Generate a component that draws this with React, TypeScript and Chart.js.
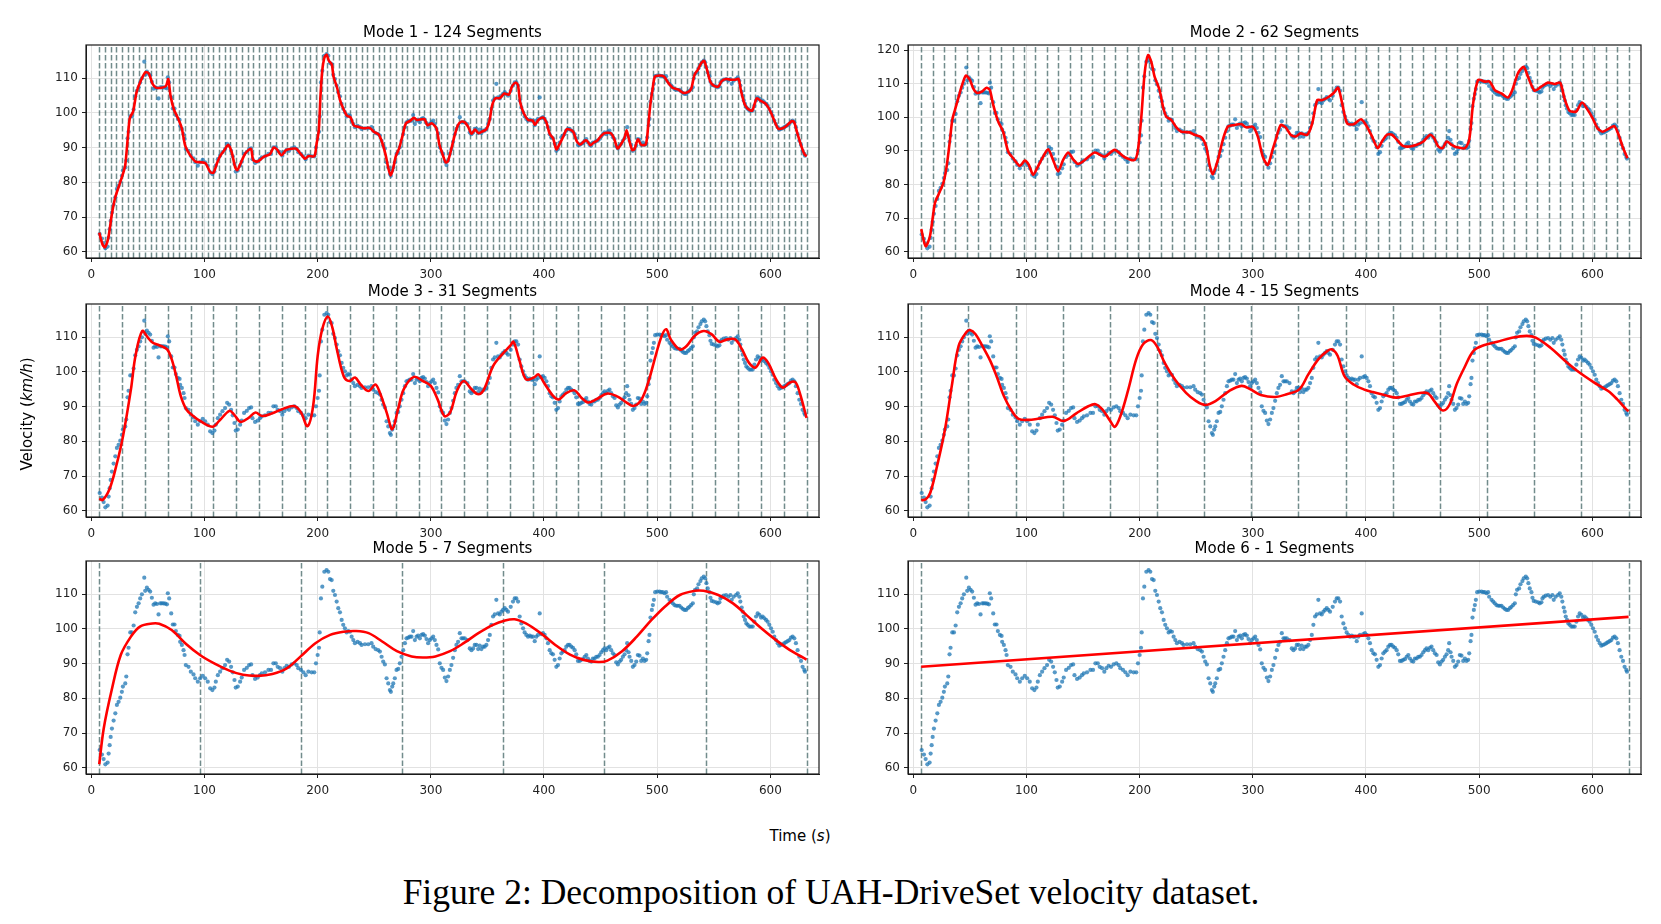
import React, { useEffect, useRef } from "react";
import { Chart, registerables } from "chart.js";

Chart.register(...registerables);

// ---------- data ----------
// velocity samples: [time (s), velocity (km/h)]
const VELOCITY_POINTS: [number, number][] = [
  [7.4,65.1],[9.4,63.8],[10.9,62.5],[12.4,61],[14.4,61.5],[15.3,64.1],[16.2,66.5],[17.1,68.9],[18.2,71.3],[19.7,73.6],[21.2,75.7],[22.6,78.1],[24.1,79],[25.6,80.2],[27,81.9],[27.9,83.4],[30,84.3],[30.9,86.3],[32,92.7],[32.9,94.6],[34.4,99],[35.9,99],[37.4,101],[38.8,104.8],[40.3,106.4],[41.8,107.4],[43.2,108.8],[44.7,110],[46.8,114.8],[47.6,111],[49.1,111.9],[50.6,111.3],[52,110.8],[53.5,109],[55,107],[56.5,107.4],[58,107.2],[59.4,104.2],[60.9,107.4],[62.3,107.4],[63.8,107.4],[65.3,107.3],[66.8,107.1],[67.6,110.3],[68.8,108.8],[70.6,104.5],[72,101.3],[73.5,101.3],[74.7,99.4],[76.5,98.3],[78,98],[78.5,96.3],[80,95.4],[81.5,93.9],[82.4,92.5],[83.5,89.6],[85.9,89.1],[87.9,87.7],[90.3,86.9],[91.8,85.8],[94.1,84.8],[96.2,85.8],[98.5,86.5],[100.6,85.8],[102.9,84.8],[105,82.9],[107,82.4],[108.8,83.1],[110,84.8],[111.8,86.7],[113.8,87.7],[115.9,88.7],[118.2,89.6],[120,91.1],[121.8,90.6],[123.5,89.1],[125,87.5],[126.5,85.3],[127.6,83.1],[129.4,83.4],[131.5,84.8],[132.9,86],[135,88.2],[137.4,88.8],[139.4,89.6],[141.2,89.8],[142.4,86.7],[144.7,85.6],[147,86],[149,86.7],[150.6,87.2],[153.5,87.5],[156.5,88.2],[158.8,88.2],[160.9,90.1],[163,90.1],[164.7,89.1],[166.8,88.7],[168.8,87.7],[170.6,88.7],[172.6,89.4],[174.7,89.1],[177,89.8],[179.4,90.1],[181.5,89.6],[182.9,88.7],[185.3,88.2],[187.4,87.5],[189.4,86.7],[191.8,87.7],[194.7,87.5],[197,87.5],[198.5,90.1],[200,92.5],[201.2,94.6],
  [201.8,99],[202.9,108.8],[204.1,112.2],[205.9,116.5],[207.9,117],[209.4,116.5],[210.9,114.4],[212.4,114.1],[213.8,111],[215.3,109.8],[216.8,107.9],[218.2,106],[219.7,104.8],[221.2,102.6],[222.6,101.2],[224.1,100.2],[225.6,99],[227,99.4],[228.5,99.2],[230,97.8],[231.5,96.8],[232.9,95.9],[235.3,96.3],[237.4,95.9],[238.8,95.4],[241.8,95.6],[244.7,95.6],[247.6,95.9],[249.1,94.9],[251.2,94.2],[253.5,93.9],[255,93.5],[256.5,92],[257.9,90.6],[259.4,89.8],[260.9,85.8],[262.4,84.3],[263.8,82.4],[264.7,81.9],[265.9,83.4],[266.8,84.3],[268.2,85.8],[269.7,88.2],[271.2,88.5],[272.6,90.1],[274.1,92],[275.6,93.9],[277.1,95.9],[278.5,97.3],[280,97.5],[281.5,97.8],[282.9,97.8],[284.4,99.4],[285.9,96.8],[287.4,97.8],[288.8,98.1],[290.3,97.3],[291.8,98.3],[293.2,98.5],[294.7,98.1],[296.2,97.1],[297.6,95.9],[299.1,96.8],[300.6,97.3],[302.1,97.8],[303.5,96.8],[305,95.4],[306.5,94.1],[307.9,90.1],[309.4,88.8],[310.9,88.2],[312.4,86],[313.8,85],[315.3,86.3],[316.8,88.2],[318.2,89.6],[319.7,91.7],[321.2,93.9],[322.6,95.4],[324.1,96.3],[325.6,98.8],[327.1,97.3],[328.5,97.3],[330,97.3],[332.4,96.8],[334.4,94.4],[335.9,93.9],[337.4,94.4],[338.8,95.4],[340.3,95.4],[341.8,94.2],[343.2,95.2],[344.7,94.2],[346.2,94.9],[347.6,94.9],[349.1,95.4],[350.6,96.8],[352.1,98.3],[353.5,101.2],[355,103.6],[356.5,104.2],[357.9,108.4],[359.4,104.5],[360.9,104.2],[362.4,105],[363.8,105.5],[365.3,106],[366.8,105.5],[368.2,105],[370.6,106.4],[372.6,107.9],[374.1,108.8],[375.6,108.8],[377.1,107.9],[378.5,103.6],[380,101.6],[381.5,100.2],[382.9,99],[384.4,98.3],[385.9,97.8],[387.4,98.1],[388.8,97.8],[390.3,97.8],[391.8,96.5],[393.2,97.8],[394.7,98.3],[396.2,104.5],[397.6,98.5],[399.1,98.8],[400.6,98.3],[402.1,97.3],[403.5,95.9],[405,93.9],[406.5,93],[407.9,92.7],[409.4,91.1],[410.9,89.1],
  [412.4,89.6],[413.8,91.5],[415.3,93],[416.8,93.5],[418.2,93.9],[419.7,94.9],[421.2,95.4],[422.6,95.4],[424.1,94.9],[425.6,94.6],[427.1,93.9],[428.5,92.7],[430,90.8],[431.5,90.8],[432.9,91.1],[434.4,91.3],[435.9,92],[437.4,92.5],[438.8,91.5],[440.3,90.8],[441.8,90.6],[443.2,91.5],[444.7,91.5],[446.2,92],[447.6,92],[449.1,92.5],[450.6,93.3],[452.1,93.9],[453.5,94.4],[455,93.9],[456.5,94.6],[457.9,94.9],[459.4,93.9],[460.9,93],[462.4,92.5],[463.8,90.4],[465.3,89.8],[466.8,90.6],[468.2,91.1],[469.7,92],[471.2,92.7],[472.6,93.9],[473.5,95.9],[474.7,93.3],[475.6,92],[477.1,90.8],[478.5,89.1],[480,89.6],[481.5,90.6],[482.9,92.5],[484.4,92.3],[485.9,90.8],[487.4,91.5],[488.8,90.8],[490.3,91.1],[491.2,93],[492.4,96.5],[493.2,98.3],[494.1,103.3],[495.3,105.5],[496.2,106.9],[497.1,108.4],[498.2,110.6],[500,110.8],[502.1,110.8],[503.5,110.6],[505,110.6],[506.5,110.3],[507.9,110.6],[508.8,109.3],[510.9,108.4],[512.4,107.9],[513.8,107.4],[515.3,106.9],[516.8,106.7],[518.2,106.7],[519.7,106.7],[521.2,106.2],[522.6,105.8],[524.1,105.5],[525.6,105.5],[527.1,106],[528.5,106.4],[530,106.9],[531.5,107.4],[532.4,110],[533.5,111.3],[535.3,111.7],[536.5,112.9],[538.2,113.8],[539.4,114.6],[541.2,115.1],[542.4,114.6],[543.5,113.2],[544.7,111.7],[546.2,110.6],[547.1,109],[548.2,108.1],[550,107.9],[552.1,107.7],[553.5,107.4],[555,107.7],[555.9,108.8],[557.1,109.3],[558.8,109.6],[560.9,109.8],[562.9,109.3],[564.7,109.8],[565.9,108.4],[567.6,109.3],[569.7,109.8],[571.2,110.3],[572.6,109.3],[573.5,107.9],[574.7,106.2],[575.6,105],[576.5,103.6],[577.6,102.6],[578.8,101.6],[580,101.2],[581.5,100.7],[582.9,100.7],[584.4,100.7],[585.9,102.1],[587.4,103.6],[588.8,104.5],[590.3,104.1],[591.8,103.3],[593.2,103.6],[594.7,103.1],[596.2,102.6],[597.6,102.1],[599.1,101.2],[600.6,100.2],[602.1,99.2],[603.5,97.8],[605,96.8],[606.5,95.9],[607.9,95.2],[609.4,95.4],[610.9,95.6],[612.4,95.9],[613.8,96.2],[615.3,96.5],[616.8,96.8],[618.2,97.5],[619.7,97.8],[621.2,97.3],[622.6,95.9],[624.1,93.9],[625.6,92],[627.1,90.8],[628.5,89.1],[630,88.2],[630.6,87.7]
];

// mode 1 fit (124 segments), [time, velocity]
const FIT_M1: [number, number][] = [
  [7,65.5],[10,62],[12,61.3],[15,64],[18,70.5],[21,75.5],[25,79.5],[28,82.5],[30,85],[32,92],[34,98.5],[37,100.5],[40,106],[44,109.5],[48,111.8],[51,111.3],[54,108.5],[57,107.3],[62,107.3],[66,107.8],[68,109.8],[70,105],[73,101],[77,98.2],[80,95.5],[83,90.5],[87,88],[92,86],[97,85.8],[101,85.5],[105,83],[108,82.8],[111,85.5],[114,87.7],[118,89.5],[121,90.8],[124,88.8],[127,84.5],[129,83.5],[132,85.5],[136,88.3],[141,89.7],[143,86.5],[147,86],[152,87.3],[158,88.2],[161,90],[164,89.5],[168,87.8],[172,89.3],[177,89.7],[181,89.7],[185,88.2],[189,86.8],[192,87.6],[197,87.5],[199,91],[201,95],[202.5,105],[204,112],[206,116],[208,116.8],[210,115],[212.5,114],[214,110.5],[217,107.5],[220,103.5],[223,101],[226,99.2],[229,98.8],[232,96.4],[236,96],[241,95.6],[246,95.7],[250,94.5],[254,93.8],[257,91.5],[260,88],[262.5,84],[264.5,82],[266.5,83.7],[269,87.5],[272,89.8],[275,93.5],[278,97],[282,97.8],[285,98.6],[288,98],[292,98.2],[294.5,98.2],[297,96.5],[301,97],[305,95.5],[307.5,91],[310,88.5],[313,85.8],[315,86],[318,89.5],[321,93.5],[324,96.5],[327,97.5],[330,97.3],[333,96],[336,94],[339,95.2],[342,94.2],[345,94.6],[349,95.3],[352,98],[354,102],[357,104.2],[361,104.3],[365,105.6],[369,105.3],[372,107.8],[375,108.8],[377,108],[379,103],[382,100],[386,98],[390,97.8],[392,96.6],[395,98],[399,98.7],[402,97.4],[405,94],[408,92.7],[411,89.5],[414,91.2],[417,93.2],[420,95.3],[423,95.2],[426,94.5],[429,91.8],[432,90.9],[436,92],[438,92],[441,90.7],[444,91.5],[447,92],[450,93.2],[453,94.1],[456,94.3],[459,94.2],[462,92.6],[465,89.8],[468,91],[471,92.7],[473,95],[475,92.5],[478,89.3],[480,89.6],[483,92.4],[486,90.8],[490,91],[492,96],[494,102.5],[496,107],[498,110.5],[502,110.8],[506,110.5],[510,108.6],[514,107.2],[519,106.7],[523,105.8],[527,106],[530,106.9],[533,111],[536,112.5],[539,114.4],[541.5,115],[544,112.5],[547,109],[550,107.9],[554,107.6],[557,109.2],[561,109.8],[565,109.6],[569,109.6],[572,109.8],[574,106.5],[577,102.8],[580,101.2],[584,100.7],[588,104.2],[592,103.4],[596,102.6],[600,100.5],[604,97.4],[607,95.5],[611,95.6],[615,96.5],[619,97.7],[621,97.4],[624,94],[627,90.8],[630,88.2],[632,87.5]
];

// mode 2 fit (62 segments), [time, velocity]
const FIT_M2: [number, number][] = [
  [7,66.7],[10.9,61.6],[14.7,64.6],[19.1,74.5],[22.1,76.9],[26.5,80.4],[29.4,85.3],[32.4,93.3],[34.4,99.2],[36.8,102.2],[39.7,105.6],[42.6,109.1],[46.5,112.4],[50,111.1],[52.9,108.6],[55.9,107.3],[60.3,107.6],[64.7,108.8],[67.6,108.1],[70.6,103.7],[75,98.7],[79.4,95.7],[83.8,89.8],[88.2,87.8],[94.1,85.5],[98.5,87.1],[102.1,85.8],[105.9,82.9],[110.3,85.5],[114.7,88.3],[119.1,90.5],[123.5,87.3],[127.9,83.9],[132.4,87.3],[136.8,89.5],[141.2,87.5],[145.6,86.1],[151.5,87.3],[160.3,89.5],[169.1,88.3],[177.9,90.3],[186.8,88.1],[195.6,87.3],[198.5,90.3],[201.5,100.2],[204.4,113.1],[207.4,118.5],[210.3,116.5],[213.2,112.1],[217.6,108.1],[220.6,103.2],[223.5,100.2],[227.9,99.2],[232.4,97],[236.8,95.7],[244.1,95.5],[248.5,94.8],[254.4,94.1],[258.8,91.3],[261.8,85.8],[264.7,83.1],[269.1,87.3],[273.5,93.3],[277.9,97.2],[283.8,97.7],[289.7,98],[294.1,97],[300,97.2],[304.4,94.3],[308.8,88.3],[313.2,85.8],[317.6,90.5],[320.2,93.3],[324.6,97.7],[329,97],[333.4,94.8],[337.8,94.3],[342.2,95.2],[348.1,94.8],[352.5,98.2],[356.9,105.1],[361.3,105.1],[367.2,106.1],[371.6,107.3],[375.4,108.8],[378.9,104.2],[383.3,98.2],[389.1,97.9],[395.6,99.4],[400.9,97.2],[405.3,94.3],[410.3,90.8],[414.1,92.8],[418.5,94.8],[422.9,94.8],[427.3,93.3],[432.6,91.5],[439,91.3],[444.9,91.8],[450.7,92.8],[456.6,94.8],[460.1,93.8],[463.9,91.3],[467.7,90.8],[471.3,92.8],[475.7,91.8],[480.1,91.1],[487.4,90.8],[491.2,93.3],[494.7,104.2],[499.1,111.1],[505,110.6],[509.4,110.6],[513.8,108.1],[519.6,107.1],[525.5,105.9],[529.3,108.1],[534.3,113.1],[539.3,115],[543.1,112.1],[549,107.9],[554.8,109.1],[560.7,110.3],[566.6,109.9],[571.6,110.3],[575.4,105.6],[579.8,102],[585.6,101.7],[590.9,104.4],[595.9,102.2],[600.3,99.7],[604.7,96.7],[609.1,95.7],[615,96.7],[619.4,97.4],[623.2,94.8],[626.7,91.3],[631,87.8]
];

const FIT_M3_T = [7,10,16,22,28,35,39,45,50,54,60,67,71,75,79,84,90,96,107,113,122,126,132,139,145,151,160,168,179,185,191,196,200,204,209,213,217,223,228,233,238,245,251,255,261,266,271,276,285,293,300,306,312,317,323,329,336,342,347,355,363,370,373,378,384,391,395,400,408,413,420,427,433,439,446,456,465,473,479,486,492,499,504,508,512,520,526,533,541,548,555,562,569,575,581,587,593,598,605,611,617,622,626,632];
const FIT_M3_V = [63.5,63.1,66.2,72.9,81.5,95,104.6,111.8,109.9,108.5,107.7,106.5,103.7,98.8,93.1,89.2,87.3,85.9,84.2,85.9,88.8,87.8,85.6,86.8,88.3,87.3,88.1,89.2,90.2,88.5,84.4,90.2,104.6,112.3,116,112.8,106.5,98.8,97.4,98.4,96.4,94.5,96.4,94,88.3,83.5,89.2,95,98.6,97.4,96,92.1,87.3,88.3,94.5,97.4,95,93.6,95,101.7,105.1,107.5,108.7,103.7,97.9,98.4,99.3,96.9,93.1,92.1,94,94.7,92.6,91.2,92.1,93.8,92.9,91.2,90.2,92,96.9,105.1,110.4,112.3,109.4,106.5,107.5,110.4,111.8,110.9,108.7,109.4,109.4,106.5,102.7,101.3,104.1,102.7,97.9,95.5,96.9,97.1,94,86.8];

const FIT_M4_T = [7,11,15,21,28,34,40,47,50,55,61,68,74,80,87,93,102,110,123,133,144,155,161,167,174,178,183,190,197,203,210,216,222,231,241,250,258,267,279,290,298,307,320,330,341,349,358,366,370,375,381,389,398,406,417,427,438,449,455,461,468,474,480,487,495,504,516,529,542,550,563,576,588,601,614,622,630,632];
const FIT_M4_V = [63,63.3,65.2,72.9,83.5,96,107.5,111.5,112.1,110.9,107.5,103.2,98.4,93.1,88.8,86.5,86.2,86.5,87.1,85.9,88.1,90.2,90.7,89.2,85.9,84.2,87.3,95,103.7,108,109.2,107,102.7,97.9,94,91.6,90.5,91.6,94.5,96,95,93.4,92.8,93.6,95,99.3,103.7,106.1,106.5,104.6,98.8,96.4,95,94.2,93.3,92.6,93.3,94,93.8,91.3,88.9,90.7,96.4,101.3,106.1,107.7,108.7,109.9,110.4,109.9,107,103.2,100,97.1,94.5,92.1,89.2,88.7];

const FIT_M5_T = [7,11,18,26,35,43,54,60,71,84,96,109,122,134,147,160,173,185,198,211,223,234,245,257,270,283,293,304,317,329,342,355,365,374,384,397,410,423,435,448,456,469,482,495,507,520,533,541,554,567,579,592,605,617,632];
const FIT_M5_V = [61,71.4,82.4,92.5,97.8,100.7,101.6,101.5,99.7,95.6,92.5,90,88,86.8,86.5,87,88.7,92.1,95.9,98.3,99.2,99.4,98.8,96.4,93.6,92.1,91.8,92.1,93.6,95.9,98.8,101.2,102.4,102.8,101.6,98.8,95.4,92.6,91.1,90.5,90.9,93.6,97.8,102.6,106.5,109.8,111,111,109.8,107.4,104,100.2,96.8,94,91.2];

const FIT_M6_T = [7, 632];
const FIT_M6_V = [89.1, 103.5];

const TITLES = [
  "Mode 1 - 124 Segments",
  "Mode 2 - 62 Segments",
  "Mode 3 - 31 Segments",
  "Mode 4 - 15 Segments",
  "Mode 5 - 7 Segments",
  "Mode 6 - 1 Segments",
];
const SEGMENT_COUNTS = [124, 62, 31, 15, 7, 1];
const SEGMENT_RANGE = [7, 632];
const X_TICKS = [0, 100, 200, 300, 400, 500, 600];
const Y_TICKS = [60, 70, 80, 90, 100, 110];
const Y_TICKS_MODE2 = [60, 70, 80, 90, 100, 110, 120];

// ---------- layout ----------
const PLOT_W = 733;
const PLOT_H = 213;
const MX = 50;
const MT = 30;
const MB = 26;
const COL_LEFT = [86, 908];
const ROW_TOP = [45, 304, 561];

const FONT = "'DejaVu Sans', 'Noto Sans', sans-serif";

function pairsFrom(t: number[], v: number[]) {
  return t.map((x, i) => ({ x, y: v[i] }));
}

function fitFor(mode: number) {
  switch (mode) {
    case 0:
      return FIT_M1.map(([x, y]) => ({ x, y }));
    case 1:
      return FIT_M2.map(([x, y]) => ({ x, y }));
    case 2:
      return pairsFrom(FIT_M3_T, FIT_M3_V);
    case 3:
      return pairsFrom(FIT_M4_T, FIT_M4_V);
    case 4:
      return pairsFrom(FIT_M5_T, FIT_M5_V);
    default:
      return pairsFrom(FIT_M6_T, FIT_M6_V);
  }
}

function Panel({ mode }: { mode: number }) {
  const ref = useRef<HTMLCanvasElement | null>(null);
  const col = mode % 2;
  const row = Math.floor(mode / 2);
  const W = PLOT_W + 2 * MX;
  const H = PLOT_H + MT + MB;

  useEffect(() => {
    if (!ref.current) return;
    const count = SEGMENT_COUNTS[mode];
    const [s0, s1] = SEGMENT_RANGE;
    const yTicks = mode === 1 ? Y_TICKS_MODE2 : Y_TICKS;
    const yMin = mode === 1 ? 58.13 : 58.2;
    const yMax = mode === 1 ? 121.5 : 119.6;

    const segPlugin = {
      id: "segments" + mode,
      beforeDatasetsDraw(chart: any) {
        const { ctx, chartArea, scales } = chart;
        ctx.save();
        ctx.beginPath();
        ctx.rect(chartArea.left, chartArea.top, chartArea.right - chartArea.left, chartArea.bottom - chartArea.top);
        ctx.clip();
        ctx.strokeStyle = "rgba(60,95,95,0.72)";
        ctx.lineWidth = 1.5;
        ctx.setLineDash([5.5, 2.4]);
        for (let i = 0; i <= count; i++) {
          const t = s0 + ((s1 - s0) * i) / count;
          const x = Math.round(scales.x.getPixelForValue(t)) + 0.5;
          ctx.beginPath();
          ctx.moveTo(x, chartArea.bottom);
          ctx.lineTo(x, chartArea.top);
          ctx.stroke();
        }
        ctx.restore();
      },
      afterDraw(chart: any) {
        const { ctx, chartArea } = chart;
        ctx.save();
        ctx.strokeStyle = "#1a1a1a";
        ctx.lineWidth = 1.2;
        ctx.strokeRect(chartArea.left, chartArea.top, chartArea.right - chartArea.left, chartArea.bottom - chartArea.top);
        ctx.restore();
      },
    };

    const tickFont = { family: FONT, size: 12 };
    const chart = new Chart(ref.current, {
      type: "scatter",
      data: {
        datasets: [
          {
            data: fitFor(mode),
            showLine: true,
            borderColor: "#ff0000",
            borderWidth: 2.6,
            pointRadius: 0,
            tension: mode === 5 ? 0 : mode <= 1 ? 0.25 : 0.35,
            order: 0,
          } as any,
          {
            data: VELOCITY_POINTS.map(([x, y]) => ({ x, y })),
            pointRadius: 2.1,
            pointBorderWidth: 0,
            pointBackgroundColor: "rgba(31,119,180,0.75)",
            backgroundColor: "rgba(31,119,180,0.75)",
            order: 1,
          } as any,
        ],
      },
      options: {
        animation: false,
        responsive: false,
        maintainAspectRatio: false,
        events: [],
        layout: { padding: { left: 0, right: 0, top: 0, bottom: 0 } },
        plugins: {
          legend: { display: false },
          tooltip: { enabled: false },
          title: {
            display: true,
            text: TITLES[mode],
            color: "#000",
            font: { family: FONT, size: 15, weight: "normal", lineHeight: 1.2 },
            padding: { top: 9.5, bottom: 2.5 },
          },
        },
        scales: {
          x: {
            type: "linear",
            min: -4.7,
            max: 643,
            afterBuildTicks: (s: any) => {
              s.ticks = X_TICKS.map((v) => ({ value: v }));
            },
            afterFit: (s: any) => {
              s.height = MB;
            },
            ticks: { font: tickFont, color: "#222", padding: 6, maxRotation: 0, autoSkip: false },
            grid: { color: "#e2e2e2", lineWidth: 1, tickLength: 4, tickColor: "#222", tickWidth: 1 },
            border: { display: true, color: "#1a1a1a", width: 1 },
          },
          y: {
            type: "linear",
            position: "left",
            min: yMin,
            max: yMax,
            afterBuildTicks: (s: any) => {
              s.ticks = yTicks.map((v) => ({ value: v }));
            },
            afterFit: (s: any) => {
              s.width = MX;
            },
            ticks: { font: tickFont, color: "#222", padding: 4, autoSkip: false },
            grid: { color: "#e2e2e2", lineWidth: 1, tickLength: 4, tickColor: "#222", tickWidth: 1 },
            border: { display: true, color: "#1a1a1a", width: 1 },
          },
          // empty right-hand spacer so the title is centred over the plot area
          spacer: {
            type: "linear",
            position: "right",
            min: 0,
            max: 1,
            display: true,
            afterFit: (s: any) => {
              s.width = MX;
            },
            ticks: { display: false },
            grid: { display: false, drawTicks: false },
            border: { display: false },
          },
        },
      } as any,
      plugins: [segPlugin],
    });
    return () => chart.destroy();
  }, [mode]);

  return (
    <div
      style={{
        position: "absolute",
        left: COL_LEFT[col] - MX,
        top: ROW_TOP[row] - MT,
        width: W,
        height: H,
      }}
    >
      <canvas ref={ref} width={W} height={H} style={{ width: W, height: H, display: "block" }} />
    </div>
  );
}

export default function App() {
  return (
    <div
      style={{
        position: "absolute",
        left: 0,
        top: 0,
        width: 1661,
        height: 924,
        background: "#fff",
        overflow: "hidden",
      }}
    >
      {[0, 1, 2, 3, 4, 5].map((m) => (
        <Panel key={m} mode={m} />
      ))}
      <div
        style={{
          position: "absolute",
          left: 27,
          top: 414,
          transform: "translate(-50%, -50%) rotate(-90deg)",
          fontFamily: FONT,
          fontSize: 15,
          whiteSpace: "nowrap",
          color: "#000",
        }}
      >
        Velocity (<i>km/h</i>)
      </div>
      <div
        style={{
          position: "absolute",
          left: 800,
          top: 836,
          transform: "translate(-50%, -50%)",
          fontFamily: FONT,
          fontSize: 15,
          whiteSpace: "nowrap",
          color: "#000",
        }}
      >
        Time (<i>s</i>)
      </div>
      <div
        style={{
          position: "absolute",
          left: 831,
          top: 892,
          transform: "translate(-50%, -50%)",
          fontFamily: "'Liberation Serif', 'DejaVu Serif', serif",
          fontSize: 35.5,
          whiteSpace: "nowrap",
          color: "#000",
        }}
      >
        Figure 2: Decomposition of UAH-DriveSet velocity dataset.
      </div>
    </div>
  );
}
